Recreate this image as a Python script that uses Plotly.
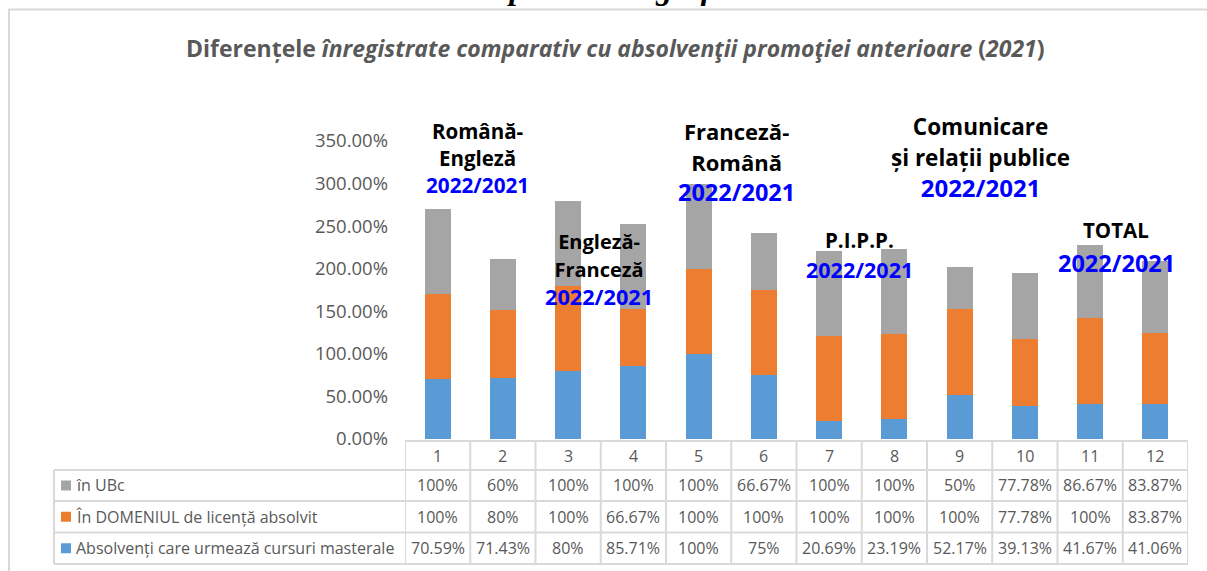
import plotly.graph_objects as go

W, H = 1207, 571

categories = [1, 2, 3, 4, 5, 6, 7, 8, 9, 10, 11, 12]
series_names = ["în UBc", "În DOMENIUL de licență absolvit", "Absolvenți care urmează cursuri masterale"]
in_ubc = [100, 60, 100, 100, 100, 66.67, 100, 100, 50, 77.78, 86.67, 83.87]
in_domeniu = [100, 80, 100, 66.67, 100, 100, 100, 100, 100, 77.78, 100, 83.87]
masterat = [70.59, 71.43, 80, 85.71, 100, 75, 20.69, 23.19, 52.17, 39.13, 41.67, 41.06]
colors = ["#A5A5A5", "#ED7D31", "#5B9BD5"]

group_names = [["Română-", "Engleză"], ["Engleză-", "Franceză"], ["Franceză-", "Română"],
               ["P.I.P.P."], ["Comunicare", "și relații publice"], ["TOTAL"]]
ratio_label = "2022/2021"
title_text = "<b>Diferențele <i>înregistrate comparativ cu absolvenţii promoţiei anterioare</i> (<i>2021</i>)</b>"
heading_text = "<b><i>Reprezentare grafică</i></b>"

# label placement: (pixel x center, pixel y of block center, black size, blue size, separate blue y or None)
group_layout = [
    (477, 158, 20.5, 20.7, None),
    (599, 270, 20, 21.7, None),
    (736, 162, 22, 23.5, None),
    (859, 240, 20.5, 21.5, 270),
    (981, 157.5, 22.5, 24, None),
    (1116, 230, 20.5, 23.5, 263),
]

TXT = "#595959"
GRID = "#D9D9D9"
FONT = "Open Sans"


def px(x):
    return x / W


def py(y):
    return 1 - y / H


def fmt(v):
    s = f"{v:.2f}".rstrip("0").rstrip(".")
    return s + "%"


fig = go.Figure()
# stack order: blue bottom, orange, gray top
for vals, name, col in [(masterat, series_names[2], colors[2]),
                        (in_domeniu, series_names[1], colors[1]),
                        (in_ubc, series_names[0], colors[0])]:
    fig.add_trace(go.Bar(x=categories, y=[v / 100 for v in vals], name=name,
                         marker=dict(color=col, line=dict(width=0)), width=0.4,
                         showlegend=False))

x_left, x_right = 405, 1188
y_zero, y_top = 439, 141

shapes = []
annotations = []


def ann(x, y, text, size, color=TXT, xref="paper", xanchor="center", family=FONT):
    annotations.append(dict(xref=xref, yref="paper", x=x, y=y, text=text, showarrow=False,
                            xanchor=xanchor, yanchor="middle",
                            font=dict(family=family, size=size, color=color)))


# outer chart frame
shapes.append(dict(type="rect", xref="paper", yref="paper", x0=px(9), x1=px(1215), y0=py(590), y1=py(9.5),
                   line=dict(color=GRID, width=2), fillcolor="rgba(0,0,0,0)"))

# table geometry
t_left = 54
row_y = [441, 470, 501, 532.5, 564]
shapes.append(dict(type="line", xref="paper", yref="paper", x0=px(x_left), x1=px(x_right), y0=py(row_y[0]), y1=py(row_y[0]),
                   line=dict(color=GRID, width=2)))
for yy in row_y[1:]:
    shapes.append(dict(type="line", xref="paper", yref="paper", x0=px(t_left), x1=px(x_right), y0=py(yy), y1=py(yy),
                       line=dict(color=GRID, width=2)))
for k in range(len(categories) + 1):
    shapes.append(dict(type="line", xref="x", yref="paper", x0=k + 0.5, x1=k + 0.5, y0=py(row_y[0]), y1=py(row_y[-1]),
                       line=dict(color=GRID, width=2)))
shapes.append(dict(type="line", xref="paper", yref="paper", x0=px(t_left), x1=px(t_left), y0=py(row_y[1]), y1=py(row_y[-1]),
                   line=dict(color=GRID, width=2)))

# header row: category numbers
for c in categories:
    ann(c, py((row_y[0] + row_y[1]) / 2), str(c), 16, xref="x")

rows = [(series_names[0], in_ubc, colors[0]),
        (series_names[1], in_domeniu, colors[1]),
        (series_names[2], masterat, colors[2])]
for r, (name, vals, col) in enumerate(rows):
    yc = (row_y[r + 1] + row_y[r + 2]) / 2
    shapes.append(dict(type="rect", xref="paper", yref="paper", x0=px(61), x1=px(71), y0=py(yc + 5), y1=py(yc - 5),
                       fillcolor=col, line=dict(width=0)))
    ann(px(74), py(yc), name, 16, xanchor="left")
    for c, v in zip(categories, vals):
        ann(c, py(yc), fmt(v), 16, xref="x")

# group labels
for names, (xc, yc, bsize, rsize, yb) in zip(group_names, group_layout):
    if yb is None:
        black = "<br>".join(f"<span style='font-size:{bsize}px'><b>{n}</b></span>" for n in names)
        blue = f"<span style='color:#0000FF'><b>{ratio_label}</b></span>"
        ann(px(xc), py(yc), black + "<br>" + blue, rsize, color="#000000")
    else:
        black = "<br>".join("<b>" + n + "</b>" for n in names)
        ann(px(xc), py(yc), black, bsize, color="#000000")
        ann(px(xc), py(yb), "<b>" + ratio_label + "</b>", rsize, color="#0000FF")

# title
ann(px(615), py(48), title_text, 23)
# cut-off heading above the chart
ann(px(611), py(-12), heading_text, 32, color="#000000", family="Liberation Serif")

fig.update_layout(
    width=W, height=H,
    margin=dict(l=0, r=0, t=0, b=0, autoexpand=False),
    paper_bgcolor="white", plot_bgcolor="white",
    barmode="stack",
    xaxis=dict(domain=[px(x_left), px(x_right)], range=[0.5, 12.5], showticklabels=False,
               showgrid=False, zeroline=False, showline=False, ticks=""),
    yaxis=dict(domain=[py(y_zero), py(y_top)], range=[0, 3.5], tickvals=[i * 0.5 for i in range(8)],
               tickformat=".2%", showgrid=False, zeroline=False, showline=False, ticks="",
               tickfont=dict(family=FONT, size=18.5, color=TXT), ticklabelstandoff=16),
    shapes=shapes,
    annotations=annotations,
)

fig.write_html("out.html", config={"displayModeBar": False},
               post_script="document.body.style.margin='0';document.body.style.overflow='hidden';")
